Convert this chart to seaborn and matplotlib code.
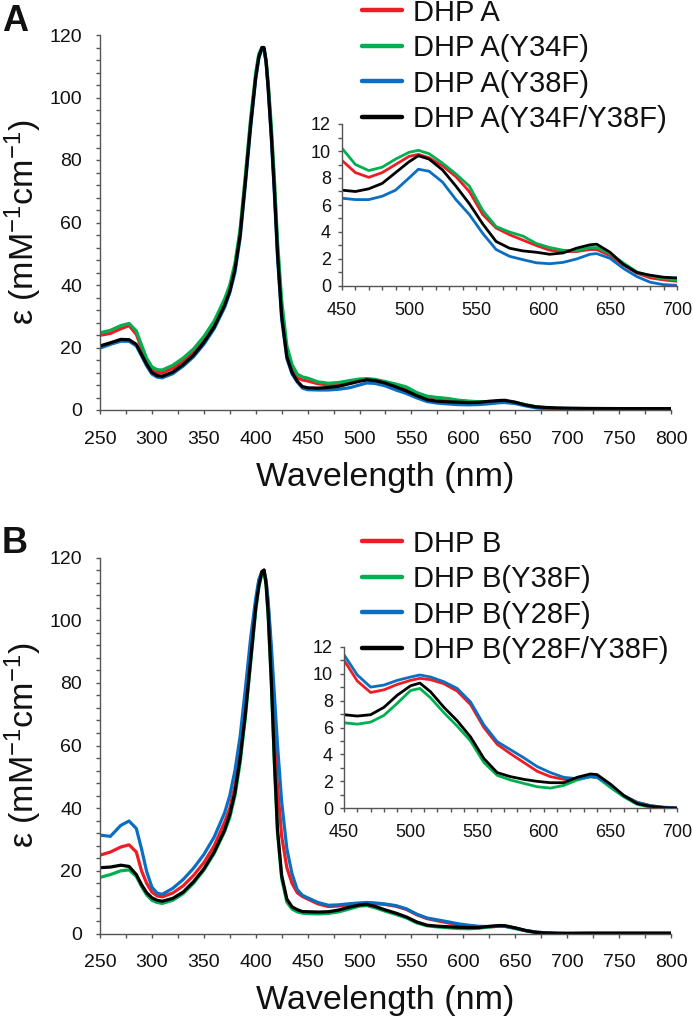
import numpy as np
import pandas as pd
import matplotlib
matplotlib.use("Agg")
import matplotlib.pyplot as plt
from matplotlib.ticker import MultipleLocator
import seaborn as sns

sns.set_style("ticks")
plt.rcParams['font.family'] = ['Liberation Sans', 'DejaVu Sans']
plt.rcParams['mathtext.default'] = 'regular'

# ---------------- data ----------------
WL_UV = [250, 260, 270, 278, 285, 290, 295, 300, 305, 310, 320, 330, 340, 350, 360, 370, 375,
         380, 385, 390, 395, 400, 403, 406, 408, 410, 412, 415, 418, 421, 425, 430, 435, 440, 445]
WL_VIS = [450, 460, 470, 480, 490, 500, 507, 515, 525, 535, 545, 555, 565, 575, 585, 595,
          605, 615, 625, 635, 640, 650, 660, 670, 680, 690, 700]
WL_TAIL = [720, 750, 780, 800]

labels_A = ["DHP A", "DHP A(Y34F)", "DHP A(Y38F)", "DHP A(Y34F/Y38F)"]
labels_B = ["DHP B", "DHP B(Y38F)", "DHP B(Y28F)", "DHP B(Y28F/Y38F)"]
colors = ["#ee1c24", "#00b050", "#0a6fc2", "#000000"]

# Panel A: UV/Soret region
A_uv_red = [23.9, 24.5, 26.0, 27.0, 24.2, 19.8, 15.8, 13.0, 12.0, 11.9, 13.3, 15.6, 18.6, 22.6, 27.6, 34.5, 39,
            46, 57, 74, 92, 107, 113.5, 115.8, 115.5, 111.5, 104, 89, 72, 52, 32, 18.5, 13, 10.3, 9.6]
A_uv_green = [24.7, 25.5, 27.0, 27.7, 25.3, 20.8, 16.5, 13.8, 12.9, 12.8, 14.3, 16.6, 19.5, 23.5, 28.5, 35.5, 40,
              47, 58, 75, 93, 108, 114, 116, 115.5, 112, 105, 91, 74, 54, 35, 20.5, 14.5, 11.5, 10.6]
A_uv_blue = [19.8, 21.0, 22.0, 22.0, 20.5, 17.3, 14.1, 11.5, 10.5, 10.3, 11.6, 14.0, 17.0, 21.0, 26.0, 32.8, 37.5,
             44, 55, 72, 90, 106, 112.5, 115.5, 115.5, 111, 102.5, 87, 69, 49, 29, 16.5, 11.5, 9.0, 7.0]
A_uv_black = [20.5, 21.5, 22.6, 22.5, 21.0, 17.8, 14.6, 12.0, 11.0, 10.8, 12.1, 14.5, 17.5, 21.6, 26.6, 33.5, 38,
              45, 56, 73, 91, 106.5, 113, 116, 116, 111.5, 103, 88, 70, 50, 30, 17, 12, 9.2, 7.5]

# Panel A: visible region (also the inset)
A_vis_red = [9.3, 8.4, 8.05, 8.4, 9.0, 9.6, 9.75, 9.5, 8.9, 8.1, 7.0, 5.3, 4.3, 3.8, 3.4, 3.0,
             2.65, 2.55, 2.55, 2.7, 2.7, 2.25, 1.55, 0.95, 0.6, 0.45, 0.35]
A_vis_green = [10.2, 9.0, 8.55, 8.8, 9.4, 9.9, 10.05, 9.8, 9.1, 8.3, 7.4, 5.6, 4.4, 4.0, 3.7, 3.15,
               2.85, 2.65, 2.6, 2.85, 2.85, 2.4, 1.7, 1.05, 0.75, 0.55, 0.45]
A_vis_blue = [6.5, 6.4, 6.4, 6.65, 7.1, 8.0, 8.65, 8.5, 7.7, 6.4, 5.3, 3.9, 2.7, 2.2, 1.95, 1.72,
              1.65, 1.75, 2.0, 2.35, 2.4, 2.05, 1.3, 0.7, 0.28, 0.1, 0.05]
A_vis_black = [7.1, 7.0, 7.2, 7.6, 8.4, 9.2, 9.65, 9.4, 8.6, 7.4, 6.1, 4.6, 3.3, 2.8, 2.6, 2.5,
               2.35, 2.45, 2.8, 3.05, 3.1, 2.5, 1.6, 1.0, 0.8, 0.65, 0.6]

A_tail_red = [0.3, 0.3, 0.3, 0.3]
A_tail_green = [0.35, 0.3, 0.3, 0.3]
A_tail_blue = [0.02, 0.0, 0.0, 0.0]
A_tail_black = [0.5, 0.45, 0.45, 0.45]

# Panel B: UV/Soret region
B_uv_red = [25.0, 26.0, 27.6, 28.3, 26.0, 20.0, 16.0, 13.2, 12.0, 11.7, 12.9, 15.2, 18.5, 22.6, 28.0, 35.5, 40,
            47, 58, 73, 90, 105, 112, 115.5, 116, 112.5, 105, 89, 66, 47, 31, 21, 16, 13, 11.8]
B_uv_green = [17.9, 18.8, 20.0, 20.3, 18.2, 15.0, 12.3, 10.6, 9.9, 9.6, 10.6, 12.7, 16.0, 20.2, 25.6, 32.5, 37,
              44, 54.5, 69, 86, 103, 110.5, 115, 115.8, 111, 101, 80, 54, 32, 17.5, 10, 7.8, 6.9, 6.5]
B_uv_blue = [31.4, 31.0, 34.5, 35.9, 33.5, 27.0, 19.7, 14.8, 12.9, 12.5, 14.4, 17.2, 20.8, 25.2, 30.8, 38.5, 44,
             52, 63, 78, 94, 107, 113, 115.5, 115.5, 112.5, 106, 92, 76, 60, 42, 27, 19, 14.0, 12.2]
B_uv_black = [21.0, 21.2, 21.8, 21.4, 18.8, 15.6, 13.0, 11.4, 10.6, 10.3, 11.2, 13.2, 16.5, 20.6, 26.0, 33.0, 38,
              45, 56, 70, 87, 104, 111, 115.5, 116, 111.5, 102, 81, 55, 33, 18.5, 11, 8.5, 7.6, 7.0]

# Panel B: visible region (also the inset)
B_vis_red = [11.0, 9.45, 8.6, 8.8, 9.2, 9.5, 9.65, 9.55, 9.25, 8.7, 7.7, 6.0, 4.75, 4.05, 3.4, 2.75,
             2.35, 2.15, 2.15, 2.35, 2.3, 1.7, 0.95, 0.45, 0.2, 0.08, 0.05]
B_vis_green = [6.35, 6.25, 6.4, 6.9, 7.8, 8.75, 8.9, 8.2, 7.1, 6.1, 5.0, 3.4, 2.45, 2.1, 1.85, 1.6,
               1.5, 1.7, 2.1, 2.35, 2.3, 1.55, 0.85, 0.3, 0.07, 0.02, 0.0]
B_vis_blue = [11.4, 9.9, 9.0, 9.15, 9.5, 9.75, 9.9, 9.75, 9.4, 8.9, 7.9, 6.2, 4.95, 4.35, 3.75, 3.1,
              2.65, 2.3, 2.2, 2.35, 2.3, 1.75, 0.95, 0.45, 0.2, 0.08, 0.05]
B_vis_black = [6.95, 6.85, 6.95, 7.5, 8.4, 9.1, 9.3, 8.65, 7.5, 6.5, 5.3, 3.7, 2.65, 2.35, 2.15, 2.0,
               1.9, 1.9, 2.3, 2.55, 2.5, 1.8, 0.95, 0.35, 0.15, 0.05, 0.0]

B_tail_red = [0.05, 0.05, 0.05, 0.05]
B_tail_green = [0.0, 0.0, 0.0, 0.0]
B_tail_blue = [0.05, 0.05, 0.05, 0.05]
B_tail_black = [0.1, 0.1, 0.1, 0.1]

panels = {
    "A": dict(labels=labels_A,
              uv=[A_uv_red, A_uv_green, A_uv_blue, A_uv_black],
              vis=[A_vis_red, A_vis_green, A_vis_blue, A_vis_black],
              tail=[A_tail_red, A_tail_green, A_tail_blue, A_tail_black]),
    "B": dict(labels=labels_B,
              uv=[B_uv_red, B_uv_green, B_uv_blue, B_uv_black],
              vis=[B_vis_red, B_vis_green, B_vis_blue, B_vis_black],
              tail=[B_tail_red, B_tail_green, B_tail_blue, B_tail_black]),
}

# ---------------- layout (pixels) ----------------
W, H = 693, 1019
fig = plt.figure(figsize=(W / 100, H / 100), dpi=100)


def frac(l, t, r, b):
    return [l / W, 1 - b / H, (r - l) / W, (b - t) / H]


layout = {
    "A": dict(main=frac(100, 35, 671, 410), inset=frac(342, 124, 677, 286),
              letter_y=4, legend_y=-1.5),
    "B": dict(main=frac(100, 557.5, 671, 933.5), inset=frac(344, 646.7, 677, 808.3),
              letter_y=526, legend_y=529.5),
}

TXT = "#111111"
SPINE = "#555555"


def style_axes(ax, fs, xpad, ypad):
    sns.despine(ax=ax)
    for s in ("left", "bottom"):
        ax.spines[s].set_color(SPINE)
        ax.spines[s].set_linewidth(1.0)
    ax.tick_params(which="both", direction="out", length=3, width=1.0, color=SPINE,
                   labelsize=fs, labelcolor=TXT)
    ax.tick_params(axis="x", pad=xpad)
    ax.tick_params(axis="y", pad=ypad)
    ax.set_facecolor("none")
    ax.grid(False)


for key, p in panels.items():
    lay = layout[key]
    ax = fig.add_axes(lay["main"])
    ins = fig.add_axes(lay["inset"])
    for i in range(4):
        wl = WL_UV + WL_VIS + WL_TAIL
        vals = p["uv"][i] + p["vis"][i] + p["tail"][i]
        df = pd.DataFrame({"wl": wl, "eps": vals})
        sns.lineplot(data=df, x="wl", y="eps", color=colors[i], linewidth=2.3, ax=ax,
                     label=p["labels"][i], sort=False, estimator=None)
        dfi = pd.DataFrame({"wl": WL_VIS, "eps": p["vis"][i]})
        sns.lineplot(data=dfi, x="wl", y="eps", color=colors[i], linewidth=2.0, ax=ins,
                     legend=False, sort=False, estimator=None)

    ax.set_xlim(250, 800)
    ax.set_ylim(0, 120)
    ax.xaxis.set_major_locator(MultipleLocator(50))
    ax.xaxis.set_minor_locator(MultipleLocator(25))
    ax.yaxis.set_major_locator(MultipleLocator(20))
    ax.yaxis.set_minor_locator(MultipleLocator(4))
    style_axes(ax, 14, 12, 10)
    ax.set_xlabel("Wavelength (nm)", fontsize=24.5, color=TXT, labelpad=10)
    ax.set_ylabel(r"ε (mM$^{-1}$cm$^{-1}$)", fontsize=24.5, color=TXT, labelpad=4)

    ins.set_xlim(450, 700)
    ins.set_ylim(0, 12)
    ins.xaxis.set_major_locator(MultipleLocator(50))
    ins.xaxis.set_minor_locator(MultipleLocator(10))
    ins.yaxis.set_major_locator(MultipleLocator(2))
    ins.yaxis.set_minor_locator(MultipleLocator(1))
    style_axes(ins, 13, 8.5, 5)
    ins.set_xlabel("")
    ins.set_ylabel("")

    handles, labs = ax.get_legend_handles_labels()
    leg = ax.legend(handles, labs, loc="upper left",
                    bbox_to_anchor=(362 / W, 1 - lay["legend_y"] / H),
                    bbox_transform=fig.transFigure, frameon=False, fontsize=21,
                    handlelength=1.37, handletextpad=0.38, labelspacing=0.26,
                    borderpad=0, borderaxespad=0)
    for ln in leg.get_lines():
        ln.set_linewidth(3.2)
    for t in leg.get_texts():
        t.set_color(TXT)

    fig.text(2 / W, 1 - lay["letter_y"] / H, key, fontsize=26, fontweight="bold",
             va="top", ha="left", color=TXT)

fig.savefig("out.png", dpi=100)
